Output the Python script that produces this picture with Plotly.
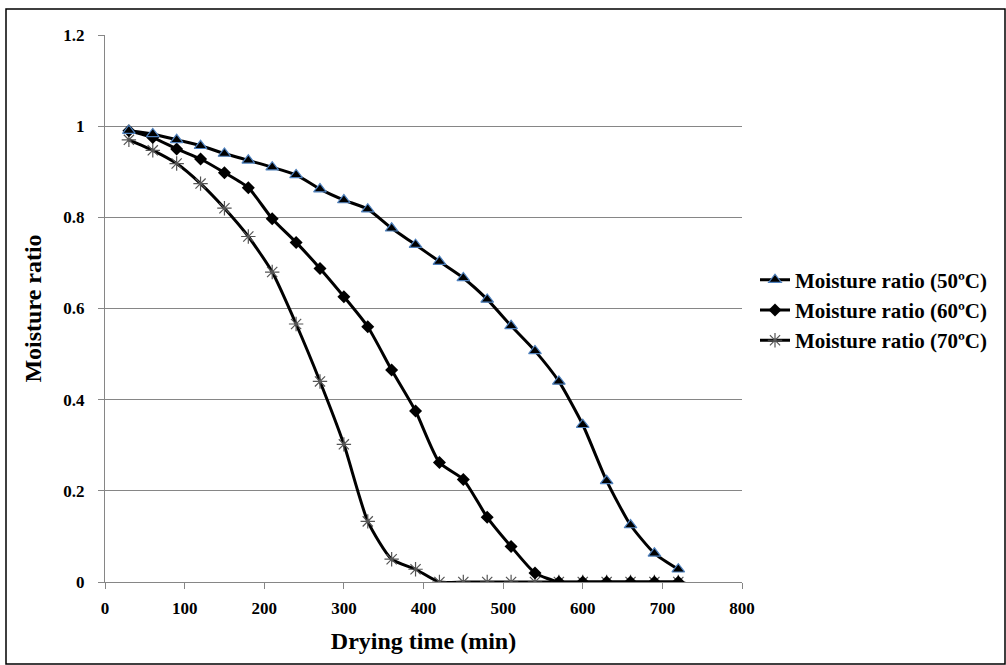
import plotly.graph_objects as go

time_min = [30, 60, 90, 120, 150, 180, 210, 240, 270, 300, 330, 360,
            390, 420, 450, 480, 510, 540, 570, 600, 630, 660, 690, 720]
mr_50 = [0.99, 0.983, 0.970, 0.957, 0.940, 0.925, 0.910, 0.893, 0.862, 0.838, 0.818, 0.776,
         0.740, 0.703, 0.667, 0.620, 0.562, 0.507, 0.440, 0.345, 0.222, 0.125, 0.063, 0.028]
mr_60 = [0.99, 0.975, 0.950, 0.928, 0.898, 0.865, 0.797, 0.745, 0.688, 0.626, 0.560, 0.465,
         0.375, 0.262, 0.225, 0.142, 0.078, 0.020, 0, 0, 0, 0, 0, 0]
mr_70 = [0.970, 0.947, 0.918, 0.874, 0.820, 0.758, 0.680, 0.566, 0.440, 0.302, 0.133, 0.050,
         0.028, 0, 0, 0, 0, 0, 0, 0, 0, 0, 0, 0]
names = ["Moisture ratio (50ºC)", "Moisture ratio (60ºC)", "Moisture ratio (70ºC)"]

SERIF = "Liberation Serif"

fig = go.Figure()
fig.add_trace(go.Scatter(
    x=time_min, y=mr_70, name=names[2], mode="lines+markers",
    line=dict(color="black", width=3, shape="spline", smoothing=0.6),
    marker=dict(symbol="asterisk-open", size=12, color="#555555",
                line=dict(color="#555555", width=1.2)),
    legendrank=3))
fig.add_trace(go.Scatter(
    x=time_min, y=mr_60, name=names[1], mode="lines+markers",
    line=dict(color="black", width=3, shape="spline", smoothing=0.6),
    marker=dict(symbol="diamond", size=10, color="black"),
    legendrank=2))
fig.add_trace(go.Scatter(
    x=time_min, y=mr_50, name=names[0], mode="lines+markers",
    line=dict(color="black", width=3, shape="spline", smoothing=0.6),
    marker=dict(symbol="triangle-up", size=11, color="black",
                line=dict(color="#4F81BD", width=1.2)),
    legendrank=1))

W, H = 1006, 665
L, R, T, B = 105, 264, 35, 83
pw, ph = W - L - R, H - T - B

def px_x(p):
    return (p - L) / pw

def px_y(p):
    return (H - B - p) / ph

fig.add_shape(type="rect", xref="paper", yref="paper",
              x0=px_x(6), x1=px_x(1005), y0=px_y(664), y1=px_y(9),
              line=dict(color="black", width=1.5), fillcolor="rgba(0,0,0,0)", layer="below")

fig.update_layout(
    width=W, height=H,
    margin=dict(l=L, r=R, t=T, b=B),
    paper_bgcolor="white", plot_bgcolor="white",
    font=dict(family=SERIF, color="black", size=16),
    legend=dict(x=px_x(755), y=px_y(310), xanchor="left", yanchor="middle",
                font=dict(family=SERIF, size=21, weight="bold", color="black"),
                itemwidth=30, tracegroupgap=0, bgcolor="rgba(0,0,0,0)"),
    xaxis=dict(range=[0, 800], tickvals=[0, 100, 200, 300, 400, 500, 600, 700, 800],
               showgrid=False, showline=True, linecolor="#868686", linewidth=1,
               ticks="outside", ticklen=6, tickcolor="#868686",
               ticklabelstandoff=5,
               tickfont=dict(family=SERIF, size=17, weight="bold"),
               title=dict(text="Drying time (min)", standoff=14,
                          font=dict(family=SERIF, size=24, weight="bold")),
               zeroline=False),
    yaxis=dict(range=[0, 1.2], tickvals=[0, 0.2, 0.4, 0.6, 0.8, 1, 1.2],
               ticktext=["0", "0.2", "0.4", "0.6", "0.8", "1", "1.2"],
               showgrid=True, gridcolor="#868686", gridwidth=1,
               showline=True, linecolor="#868686", linewidth=1,
               ticks="outside", ticklen=6, tickcolor="#868686",
               ticklabelstandoff=10,
               tickfont=dict(family=SERIF, size=17, weight="bold"),
               title=dict(text="Moisture ratio", standoff=14,
                          font=dict(family=SERIF, size=24, weight="bold")),
               zeroline=False),
    showlegend=True,
)

fig.write_html("out.html", config={"displayModeBar": False},
               post_script="document.body.style.margin='0';document.body.style.overflow='hidden';")
